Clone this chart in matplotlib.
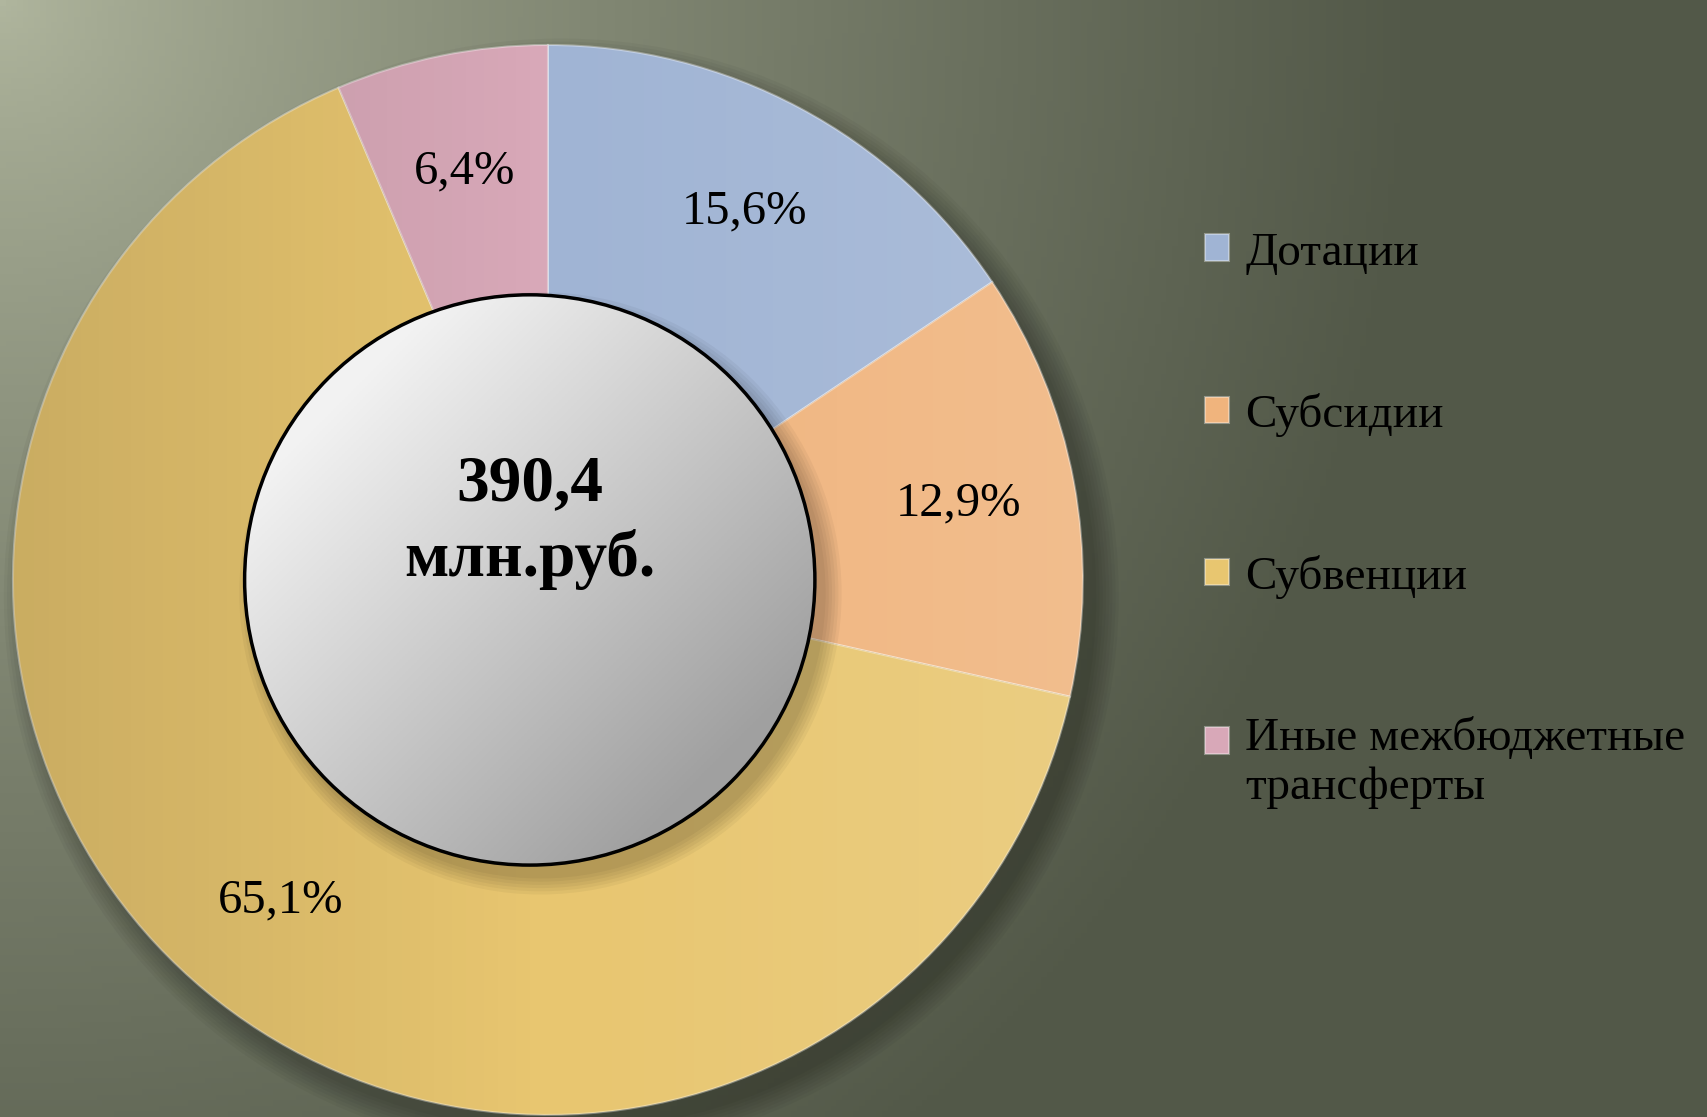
import numpy as np
import matplotlib.pyplot as plt
from matplotlib.patches import Circle

categories = ['Дотации', 'Субсидии', 'Субвенции', 'Иные межбюджетные\nтрансферты']
shares = [15.6, 12.9, 65.1, 6.4]
colors = ['#a0b4d4', '#f0b47d', '#e8c670', '#d8a8b8']
total_label = '390,4\nмлн.руб.'

plt.rcParams['font.family'] = ['Liberation Serif', 'DejaVu Serif']

W, H = 1707, 1117
fig = plt.figure(figsize=(W / 100, H / 100), dpi=100)

# olive background, light in the top-left corner
bg = fig.add_axes([0, 0, 1, 1])
bg.axis('off')
yy, xx = np.mgrid[0:1:200j, 0:1:300j]
t = np.clip(np.hypot(xx * 1.2, yy * 0.75), 0, 1) ** 0.8
light = np.array([176, 182, 158]) / 255
dark = np.array([82, 88, 72]) / 255
bg.imshow(light + (dark - light) * t[..., None], extent=[0, 1, 0, 1],
          aspect='auto', origin='upper')

ax = fig.add_axes([0.0076, 0.0018, 0.6268, 0.958])

# soft shadow under the ring
for k in range(8):
    ax.add_patch(Circle((0.025, -0.03), 1.0 + 0.006 * k, color='black',
                        alpha=0.035, lw=0, zorder=0, clip_on=False))

wedges, texts, autotexts = ax.pie(
    shares, colors=colors, startangle=90, counterclock=False, radius=1,
    wedgeprops=dict(width=0.5, edgecolor=(1, 1, 1, 0.35), linewidth=1.5),
    autopct=lambda p: f'{p:.1f}%'.replace('.', ','), pctdistance=0.78,
    textprops=dict(fontsize=35, color='black'))

# light/dark shading across each wedge
sh = np.linspace(-1, 1, 300)[None, :].repeat(20, axis=0)
over = np.zeros(sh.shape + (4,))
over[..., :3] = (sh > 0)[..., None]
over[..., 3] = np.abs(sh) * 0.13
for w in wedges:
    w.set_zorder(1)
    w.set_clip_on(False)
    im = ax.imshow(over, extent=[-1, 1, -1, 1], zorder=1.5)
    im.set_clip_path(w)
for a in autotexts:
    a.set_zorder(5)

# grey centre disc
cx, r_in = -0.034, 0.533
for k in range(6):
    ax.add_patch(Circle((cx + 0.02, -0.025), r_in + 0.006 * k, color='black',
                        alpha=0.04, lw=0, zorder=2))
gy, gx = np.mgrid[1:-1:200j, -1:1:200j]
g = np.clip((gx - gy) / 2.6 + 0.5, 0, 1)
gimg = (0.95 - 0.32 * g)[..., None].repeat(3, axis=2)
disc = Circle((cx, 0), r_in, facecolor='none', edgecolor='black', lw=2.5, zorder=4)
ax.add_patch(disc)
gi = ax.imshow(gimg, extent=[cx - r_in, cx + r_in, -r_in, r_in], zorder=3)
gi.set_clip_path(disc)

ax.text(cx, 0.108, total_label, ha='center', va='center', fontsize=47,
        fontweight='bold', linespacing=1.3, zorder=6)

ax.set_xlim(-1, 1)
ax.set_ylim(-1, 1)
ax.set_aspect('equal')
ax.axis('off')

leg = fig.legend(wedges, categories, loc='center left', bbox_to_anchor=(0.706, 0.534),
                 frameon=False, fontsize=34, handlelength=0.5, handleheight=0.5,
                 labelspacing=2.5, handletextpad=0.35, borderpad=0, borderaxespad=0)
# put the marker of the two-line entry next to its first line
last = leg.legend_handles[-1]
last.set_y(last.get_y() + 16)

fig.savefig('out.png', dpi=100)
